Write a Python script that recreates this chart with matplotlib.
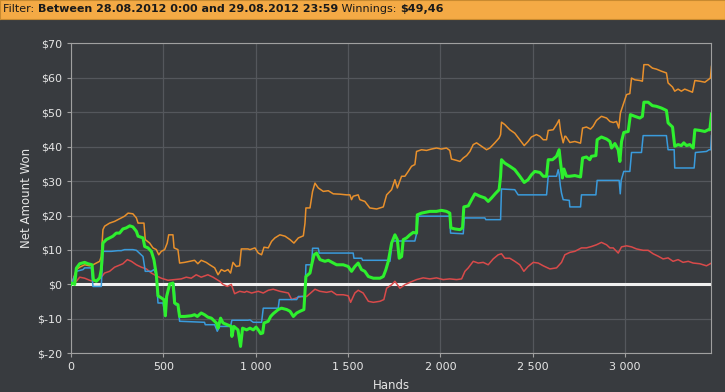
import numpy as np
import matplotlib
matplotlib.use("Agg")
import matplotlib.pyplot as plt
from matplotlib.ticker import FuncFormatter

#%%----- data (hands, net amount won) -----------------------------------------
green_x = [0, 5, 20, 29, 47, 74, 92, 114, 121, 137, 155, 164, 173, 191, 209, 227, 245, 263,
           281, 299, 318, 335, 354, 363, 390, 399, 417, 435, 449, 462, 471, 489, 503, 511,
           518, 534, 552, 561, 579, 588, 615, 651, 669, 684, 705, 723, 741, 760, 787, 796,
           810, 823, 846, 868, 871, 882, 904, 918, 929, 951, 969, 987, 1002, 1014, 1027,
           1038, 1045, 1068, 1081, 1095, 1122, 1140, 1168, 1186, 1204, 1222, 1240, 1261,
           1272, 1294, 1303, 1316, 1330, 1348, 1375, 1393, 1420, 1438, 1474, 1501, 1519,
           1537, 1555, 1573, 1591, 1610, 1637, 1673, 1691, 1705, 1718, 1736, 1754, 1767,
           1777, 1790, 1799, 1817, 1835, 1853, 1871, 1875, 1898, 1916, 1943, 1979, 2006,
           2033, 2051, 2057, 2079, 2106, 2120, 2127, 2151, 2169, 2187, 2214, 2241, 2259,
           2277, 2300, 2318, 2326, 2331, 2349, 2376, 2403, 2430, 2454, 2475, 2493, 2511,
           2539, 2557, 2575, 2584, 2607, 2629, 2643, 2651, 2661, 2669, 2683, 2701, 2728,
           2759, 2770, 2791, 2809, 2818, 2842, 2849, 2872, 2900, 2918, 2927, 2945, 2963,
           2972, 2981, 2993, 3017, 3029, 3053, 3080, 3094, 3102, 3125, 3148, 3170, 3197,
           3224, 3233, 3257, 3269, 3287, 3305, 3318, 3333, 3351, 3369, 3378, 3405, 3432,
           3450, 3459, 3468]
green_y = [0, 0.4, 0, 4.7, 6, 6.4, 6, 5.7, 1.4, 0.9, 1.9, 4.3, 12, 13, 13.5, 14, 14.9, 14.9,
           16.1, 16.4, 17, 16.7, 15.4, 14, 13.5, 11, 10.6, 9.6, 7.2, 2.8, -3.3, -3.9, -4.4,
           -9.1, -3.5, 0.1, 0.4, -5.4, -5.9, -9.3, -9.3, -9.1, -8.8, -9.3, -8.3, -8.8, -9.5,
           -9.8, -11.2, -12.7, -9.8, -11.2, -11.7, -12.2, -15.1, -12.2, -13.2, -18, -12.7,
           -13.2, -12.7, -13.2, -12.4, -13.2, -14.3, -14.1, -11.2, -10.7, -9.3, -8.5, -7.3,
           -6.9, -7.3, -7.8, -9.3, -8.3, -7.8, -7.3, 2.3, 3.3, 5.7, 8.6, 9.1, 7.2, 6.7, 7,
           6.2, 5.7, 5.7, 5.2, 3.8, 5.2, 6.2, 4.3, 3.8, 2.3, 1.8, 1.8, 2.3, 4.3, 6.7, 12,
           14.4, 13, 7.6, 8.1, 13, 13.5, 14.4, 15.1, 14.9, 20.2, 20.7, 20.9, 21.2, 21.2,
           21.5, 21.2, 20.7, 16.4, 16.1, 15.9, 16.4, 22.5, 22.8, 24.6, 26.3, 25.6, 25.1,
           24.1, 25.1, 26.5, 27.5, 31.4, 36.2, 35.2, 34.3, 33.3, 31.4, 29.6, 30.4, 31.8,
           32.8, 32.5, 31.4, 31.4, 36.2, 36.2, 37.2, 39.1, 35.2, 30.9, 33.5, 31.4, 31.4,
           31.6, 31.2, 36.7, 37, 36.2, 37.2, 37.4, 42, 42.8, 42.2, 41.5, 39.6, 40.9, 39.1,
           35.7, 41.5, 44.1, 44.4, 49.3, 48.8, 48.3, 48.8, 52.9, 52.9, 51.9, 51.7, 51.2,
           50.5, 46.9, 45.7, 40.1, 40.6, 40.3, 41.1, 40.3, 40.6, 39.6, 44.9, 44.7, 44.4,
           44.9, 44.9, 49.46]

blue_x = [0, 5, 29, 65, 74, 110, 119, 164, 173, 218, 254, 272, 290, 335, 354, 390, 402, 435,
          449, 462, 471, 498, 511, 518, 534, 558, 565, 579, 588, 723, 727, 778, 792, 805,
          864, 871, 958, 969, 987, 1032, 1041, 1122, 1128, 1222, 1231, 1267, 1272, 1303,
          1308, 1339, 1344, 1528, 1532, 1574, 1579, 1718, 1727, 1740, 1862, 1871, 1880,
          2051, 2055, 2124, 2129, 2241, 2246, 2326, 2331, 2403, 2421, 2575, 2584, 2629,
          2638, 2643, 2650, 2656, 2665, 2698, 2701, 2759, 2764, 2842, 2849, 2968, 2974,
          2979, 2993, 3026, 3035, 3089, 3098, 3224, 3233, 3266, 3269, 3374, 3381, 3441,
          3455, 3464, 3468]
blue_y = [0, 0.4, 3.8, 4.3, 4.8, 4.8, -0.6, -0.6, 9.6, 9.6, 9.8, 9.8, 10.1, 10.1, 9.9, 8.1,
          3.8, 3.8, 4.3, 2.8, -5.4, -5.4, -9.3, -3.5, 0, 0, -5.9, -5.9, -10.7, -11, -11.7,
          -11.7, -13.6, -12.2, -12.2, -10.4, -10.4, -10.3, -11, -11, -6.9, -6.9, -4.4,
          -4.4, -3.5, -3.5, 5.7, 5.7, 10.5, 10.5, 9.1, 9.1, 7.6, 7.6, 7, 7, 6.7, 12.6,
          12.6, 14.7, 19.8, 19.8, 14.9, 14.7, 19.3, 19.3, 18.8, 18.8, 27.7, 27.5, 26, 26,
          31.4, 31.4, 33.3, 32, 28.5, 26.5, 24.6, 24.4, 22.5, 22.5, 26, 26, 30.2, 30.2,
          26.3, 30.2, 32.8, 32.8, 38.3, 38.3, 43.2, 43.2, 39.1, 39.1, 33.8, 33.8, 38.3,
          38.6, 39.1, 39.1, 43.2]

orange_x = [0, 5, 29, 47, 74, 101, 119, 137, 155, 164, 173, 182, 209, 236, 254, 272, 290,
            309, 335, 354, 363, 395, 402, 426, 444, 462, 475, 489, 507, 521, 529, 552, 558,
            579, 588, 615, 642, 669, 687, 705, 732, 751, 778, 796, 814, 832, 850, 864, 877,
            895, 913, 922, 958, 969, 996, 1014, 1032, 1045, 1068, 1086, 1104, 1131, 1159,
            1186, 1207, 1231, 1258, 1267, 1272, 1294, 1308, 1321, 1339, 1366, 1393, 1420,
            1456, 1492, 1510, 1519, 1528, 1555, 1564, 1591, 1618, 1655, 1691, 1709, 1736,
            1754, 1767, 1790, 1808, 1826, 1844, 1862, 1871, 1898, 1925, 1952, 1979, 2006,
            2033, 2051, 2060, 2088, 2106, 2124, 2142, 2160, 2178, 2196, 2223, 2250, 2268,
            2295, 2318, 2326, 2331, 2349, 2376, 2403, 2430, 2454, 2475, 2493, 2520, 2539,
            2557, 2575, 2584, 2611, 2629, 2643, 2651, 2665, 2674, 2679, 2701, 2728, 2759,
            2770, 2791, 2813, 2827, 2845, 2872, 2900, 2918, 2936, 2954, 2966, 2975, 2993,
            3008, 3026, 3035, 3053, 3080, 3094, 3102, 3125, 3148, 3170, 3197, 3224, 3233,
            3257, 3269, 3287, 3305, 3323, 3342, 3365, 3378, 3405, 3432, 3450, 3462, 3468]
orange_y = [0, 0.4, 4.3, 5, 5.7, 5.4, 5.7, 6.2, 6.7, 8.1, 15.9, 16.9, 17.8, 18.3, 18.8,
            19.3, 19.8, 20.7, 20.5, 19.3, 17.8, 17.8, 13, 12, 10.6, 10.1, 8.6, 9.6, 10.1,
            12, 14.4, 14.4, 10.6, 10.1, 6.2, 6.4, 6.7, 7, 6, 7, 6.4, 5.7, 4.8, 2.8, 4.3,
            3.8, 4.3, 3.3, 6.4, 5.2, 5.4, 10.3, 10.3, 10.1, 10.6, 9.1, 8.6, 10.8, 10.6,
            12.5, 13.5, 14.4, 14, 13, 12, 13.5, 14.1, 17.8, 22.2, 22.2, 27, 29.4, 28, 27,
            27.2, 26.3, 26.2, 26, 26, 24.6, 25.6, 26, 24.6, 24.1, 22.2, 21.9, 22.5, 26,
            27.5, 30.4, 28, 31.4, 31.4, 32.8, 34.3, 34.8, 38.6, 39.1, 38.9, 39.3, 39.6,
            39.3, 39.6, 38.9, 36.4, 36, 35.7, 36.7, 37.4, 38.6, 40.6, 41.1, 40.1, 39.1,
            39.6, 41.1, 42.5, 43.5, 47.1, 46.4, 44.9, 43.9, 42, 40.3, 41.5, 42.8, 43.5,
            43, 42, 42, 44.7, 44.9, 46.4, 47.8, 44.4, 41.1, 43, 43, 41.2, 41.5, 41,
            45.4, 45.7, 45.1, 45.9, 47.6, 48.8, 48.3, 47.3, 47, 47.3, 45.4, 49.8, 52.7,
            55.1, 55.4, 59.9, 59.4, 59.2, 59, 63.8, 63.8, 62.8, 62.5, 61.9, 61.4, 58.5,
            57.3, 56.1, 56.7, 56.1, 56.7, 56.3, 55.8, 59.2, 59, 58.7, 59.4, 59.9, 63.3]

red_x = [0, 5, 29, 47, 74, 101, 119, 146, 164, 182, 209, 236, 254, 281, 305, 327, 354,
         381, 408, 435, 462, 489, 525, 561, 597, 624, 651, 678, 705, 741, 769, 805, 823,
         846, 868, 886, 913, 940, 951, 978, 1014, 1041, 1068, 1095, 1131, 1177, 1195,
         1222, 1249, 1276, 1321, 1348, 1384, 1411, 1438, 1474, 1501, 1514, 1537, 1555,
         1582, 1610, 1637, 1673, 1694, 1709, 1736, 1754, 1781, 1808, 1835, 1871, 1907,
         1943, 1979, 2015, 2051, 2088, 2115, 2133, 2151, 2178, 2205, 2232, 2259, 2286,
         2313, 2331, 2349, 2376, 2403, 2430, 2452, 2475, 2503, 2530, 2557, 2593, 2629,
         2656, 2674, 2701, 2728, 2764, 2791, 2818, 2845, 2872, 2900, 2918, 2936, 2963,
         2981, 3008, 3035, 3062, 3098, 3125, 3152, 3179, 3206, 3233, 3260, 3287, 3314,
         3342, 3369, 3405, 3441, 3468]
red_y = [0, 0.4, 0.9, 2.1, 1.8, 1.2, 0.9, 1.2, 2.1, 3.3, 3.8, 5, 5.4, 6, 7.2, 6.7, 5.7,
         5, 4.5, 3.3, 2.5, 1.8, 1.2, 1.4, 1.6, 2.1, 1.8, 2.8, 2.1, 2.8, 2.1, 0.9, 0,
         -0.6, 0, -2.7, -2, -2.3, -2, -2.5, -2, -2.5, -1.7, -1.4, -2, -2.5, -4.4, -3.9,
         -3.5, -3.5, -1.4, -2, -2.3, -2, -3, -3, -3.3, -5.2, -2.5, -1.7, -2.5, -4.9,
         -5.2, -4.9, -4.4, -1.1, -0.1, 0.9, -1.1, -0.1, 0.6, 1.4, 1.9, 1.6, 1.9, 1.4,
         1.6, 1.4, 1.6, 3.8, 4.8, 6.7, 6.2, 6.4, 5.7, 7.4, 8.6, 8.9, 7.6, 7.6, 6.7, 5.7,
         3.8, 5.2, 6.4, 6.2, 5.4, 4.5, 4.8, 6.4, 8.6, 9.3, 9.6, 10.6, 10.6, 11, 11.5,
         12.2, 11.5, 10.6, 10.6, 9.1, 10.9, 11.2, 10.9, 10.3, 9.9, 9.9, 8.9, 8.2, 7.4,
         7.7, 6.7, 7.2, 6.4, 6.7, 6.2, 6, 5.4, 6.2]

y_ticks = [-20, -10, 0, 10, 20, 30, 40, 50, 60, 70]
x_ticks = [0, 500, 1000, 1500, 2000, 2500, 3000]

#%%----- figure -----------------------------------------------------------------
bg = '#383b3f'
txt = '#e6e6e6'
fig = plt.figure(figsize=(7.25, 3.92), dpi=100, facecolor=bg)

# orange filter bar on top
bar = fig.add_axes([0, 1 - 19/392, 1, 19/392])
bar.set_facecolor('#f4aa45')
bar.set_xticks([])
bar.set_yticks([])
for s in bar.spines.values():
    s.set_color('#c88a30')
bar.set_xlim(0, 725)
bar.set_ylim(0, 19)
parts = [("Filter: ", 'normal'), ("Between 28.08.2012 0:00 and 29.08.2012 23:59", 'bold'),
         (" Winnings: ", 'normal'), ("$49,46", 'bold')]
xpos = 3
renderer = fig.canvas.get_renderer()
for s, w in parts:
    t = bar.text(xpos, 9.5, s, fontsize=8, fontweight=w, color='#1a1a1a',
                 va='center', ha='left', family='DejaVu Sans')
    bb = t.get_window_extent(renderer=renderer)
    xpos += bb.width

ax = fig.add_axes([71/725, (392-353.3)/392, 640.3/725, 310/392])
ax.set_facecolor(bg)

ax.grid(True, color='#54575c', lw=0.9)
ax.set_axisbelow(True)
ax.axhline(0, color='#f0f0f0', lw=2.2, zorder=2)

ax.plot(red_x, red_y, color='#d94a4a', lw=1.1, zorder=3)
ax.plot(orange_x, orange_y, color='#e8902c', lw=1.1, zorder=3)
ax.plot(blue_x, blue_y, color='#3a9bdc', lw=1.1, zorder=4)
ax.plot(green_x, green_y, color='#2ef02e', lw=2.2, zorder=5)

ax.set_xlim(0, 3467)
ax.set_ylim(-20, 70)
ax.set_yticks(y_ticks)
ax.set_xticks(x_ticks)
ax.yaxis.set_major_formatter(FuncFormatter(lambda v, p: "$%d" % v))
ax.xaxis.set_major_formatter(FuncFormatter(lambda v, p: "{:,}".format(int(v)).replace(",", " ")))

for s in ax.spines.values():
    s.set_color('#a0a0a0')
ax.tick_params(colors='#a0a0a0', labelcolor=txt, labelsize=8, length=3)
ax.set_ylabel("Net Amount Won", color=txt, fontsize=8.5, labelpad=3)
ax.set_xlabel("Hands", color=txt, fontsize=8.5, labelpad=5)

plt.savefig('out.png', dpi=100, facecolor=bg)
